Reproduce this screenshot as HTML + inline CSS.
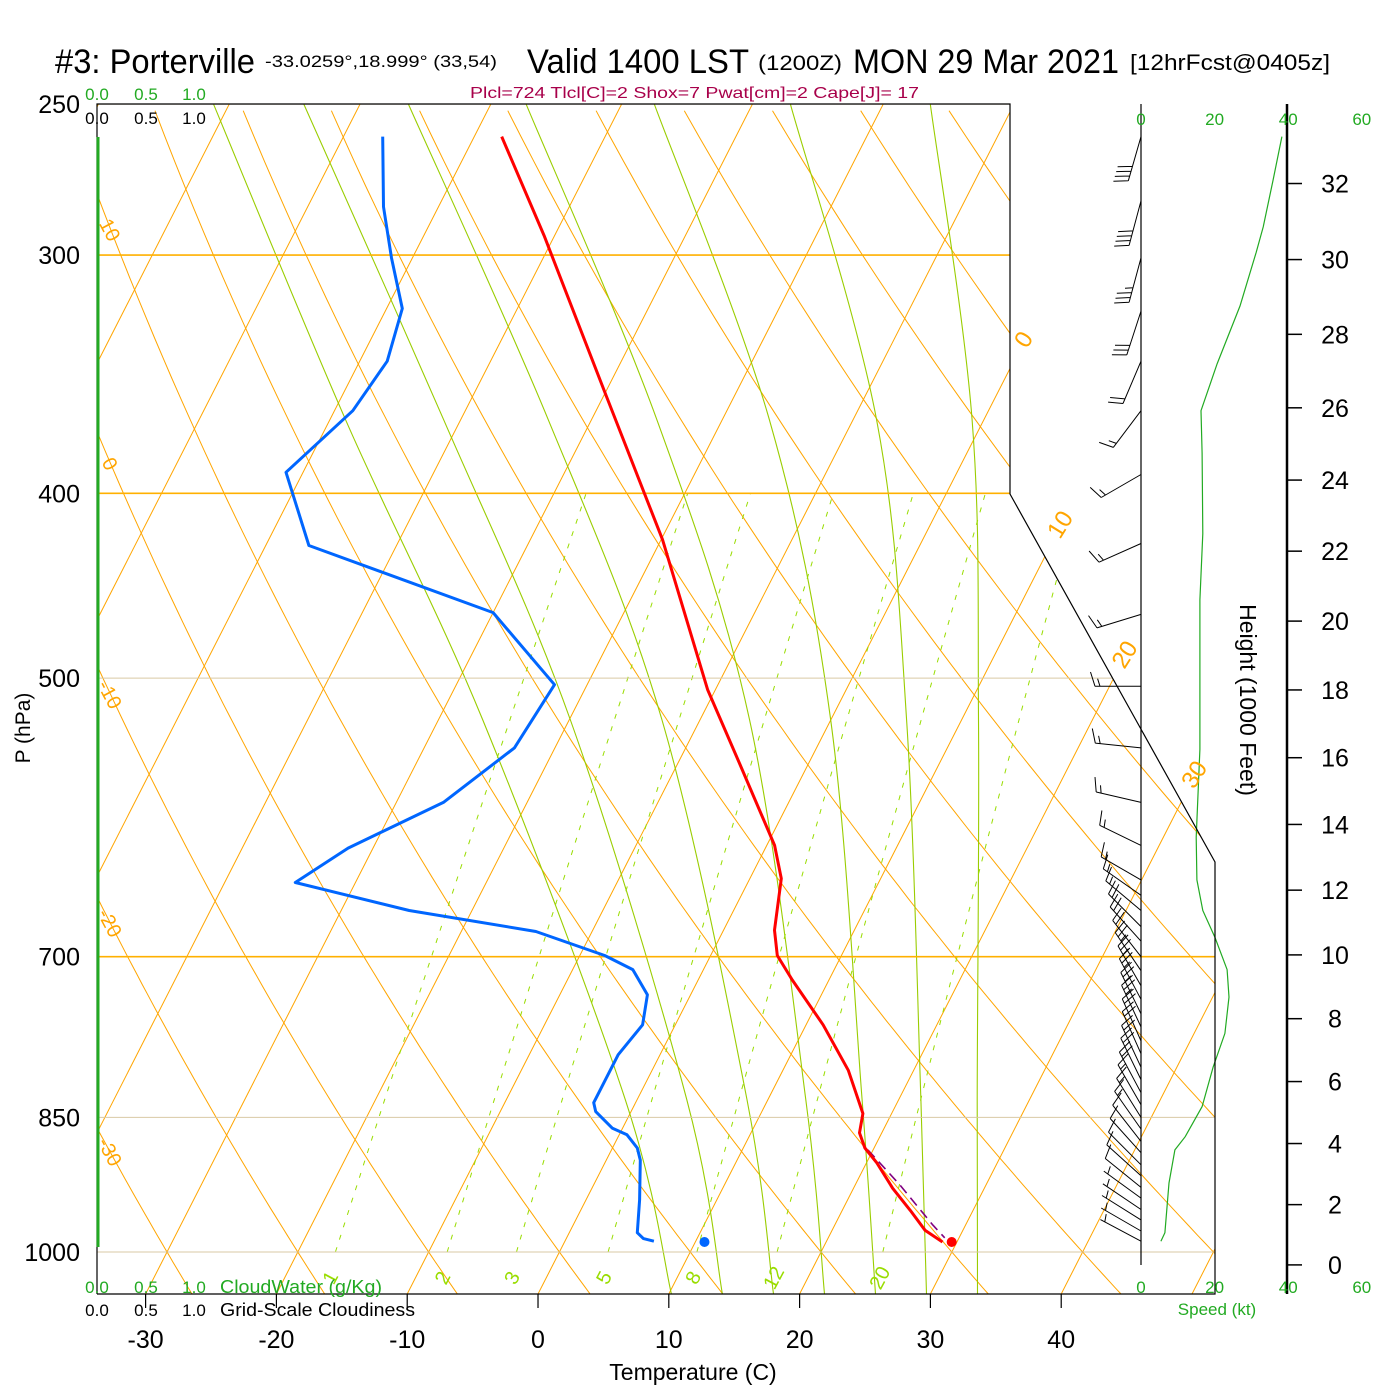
<!DOCTYPE html>
<html><head><meta charset="utf-8"><title>Skew-T Porterville</title>
<style>
html,body{margin:0;padding:0;background:#fff;}
svg{display:block;font-family:"Liberation Sans",Arial,sans-serif;}
</style></head>
<body>
<svg id="chart" xmlns="http://www.w3.org/2000/svg" width="1400" height="1400" viewBox="0 0 1400 1400">
<rect x="0" y="0" width="1400" height="1400" fill="#fff"/>
<defs><clipPath id="plotclip"><polygon points="97,104 1010,104 1010,494 1215,862 1215,1294 97,1294"/></clipPath></defs>
<g id="grid" clip-path="url(#plotclip)"></g>
<g id="marks"></g>
<g id="barbs"></g>
<g id="frame"></g>
<g id="labels"></g>
<text x="55" y="73" font-size="34" textLength="200" lengthAdjust="spacingAndGlyphs">#3: Porterville</text>
<text x="265" y="67" font-size="17" textLength="232" lengthAdjust="spacingAndGlyphs">-33.0259°,18.999° (33,54)</text>
<text x="527" y="73" font-size="34" textLength="222" lengthAdjust="spacingAndGlyphs">Valid 1400 LST</text>
<text x="758" y="70" font-size="21" textLength="84" lengthAdjust="spacingAndGlyphs">(1200Z)</text>
<text x="853" y="73" font-size="34" textLength="266" lengthAdjust="spacingAndGlyphs">MON 29 Mar 2021</text>
<text x="1130" y="70" font-size="22" textLength="200" lengthAdjust="spacingAndGlyphs">[12hrFcst@0405z]</text>
<text x="470" y="98" font-size="16" fill="#a8004a" textLength="449" lengthAdjust="spacingAndGlyphs">Plcl=724 Tlcl[C]=2 Shox=7 Pwat[cm]=2 Cape[J]= 17</text>
</svg>
<script>
// ---------- data ----------
const tempP = [260,293,355,423,507,555,612,637,678,699,720,760,803,846,866,882,898,926,951,974,988];
const tempT = [-47.9,-40.8,-29.9,-19.9,-10.6,-5.2,0.6,2.4,3.9,5.1,7.2,11.3,15.0,17.8,18.3,19.3,20.8,23.0,25.2,27.1,28.9];
const dewP = [260,283,301,320,341,362,390,426,462,504,544,581,614,640,662,679,699,711,733,760,788,835,844,861,868,882,895,939,977,984,987];
const dewT = [-57.0,-54.2,-51.6,-48.8,-47.9,-48.6,-51.3,-46.7,-30.0,-22.5,-23.1,-26.4,-31.9,-34.6,-24.8,-14.3,-8.1,-5.4,-3.3,-2.5,-3.2,-3.2,-2.7,-0.8,0.6,1.9,2.6,4.1,5.2,5.9,6.8];
const parcelP = [884,922,968,983];
const parcelT = [19.6,23.4,27.5,28.9];
const sfcP = 988, sfcT = 29.6, sfcTd = 10.7;
const barbP = [260,281,301,321,341,362,391,425,463,505,544,581,612,638,650,662,675,687,700,712,725,737,750,762,775,787,800,812,825,837,850,862,875,887,900,912,925,937,950,962,975,987];
const barbDir = [196,195,195,198,203,217,240,246,253,270,276,283,296,300,305,310,315,318,322,326,330,332,334,335,336,336,335,334,332,330,328,325,322,318,315,312,309,306,304,302,300,298];
const barbSpd = [40,40,35,30,20,15,15,15,15,15,15,15,15,15,16,17,19,20,22,23,24,24,24,23,22,21,20,19,18,17,15,13,11,9,8,8,8,7,7,7,6,5];
const spdP = [260,274,290,299,319,342,362,381,420,455,545,606,638,662,684,711,735,768,800,839,870,884,920,977,987];
const spdKt = [38.3,35.9,33.2,31.3,26.9,20.7,16.3,16.6,16.8,16.0,16.0,15.0,15.2,16.8,20.1,23.4,23.9,22.8,19.6,16.6,12.0,9.2,7.6,6.5,5.4];
const pressureTicks = [250,300,400,500,700,850,1000];
const tempTicks = [-30,-20,-10,0,10,20,30,40];
const heightTicks = [0,2,4,6,8,10,12,14,16,18,20,22,24,26,28,30,32];
const speedTicks = [0,20,40,60];
const mixRatios = [1,2,3,5,8,12,20];
// moist adiabats: temperatures (C) at these pressure levels, one row per curve
const moistP = [250,366,526,832,1052];
const moistT1 = [-71.2,-48.8,-26.6,-0.9,10.2];
const moistT2 = [-64.3,-41.3,-19.9,3.8,14.1];
const moistT3 = [-56.3,-33.3,-12.9,8.4,18.0];
const moistT4 = [-47.3,-25.0,-6.2,12.9,21.9];
const moistT5 = [-37.5,-16.4,0.0,17.2,25.8];
const moistT6 = [-27.1,-8.2,5.8,21.7,29.7];
const moistT7 = [-16.4,-0.9,11.3,26.0,33.6];
const dryLabels = [10,0,-10,-20,-30];
const isoLabels = [0,10,20,30];

// ---------- axes ----------
const NS='http://www.w3.org/2000/svg';
function yP(p){return 1252-828*Math.log(1000/p);}
function xT(T,p){return 538+13.08*T+0.51*(1294-yP(p));}
function xSpd(s){return 1141+3.68*s;}
function yHeight(kft){const h=kft*304.8;const p=1013.25*Math.pow(1-6.5e-3*h/288.15,5.2559);return yP(p)+2;}
function mk(tag,attrs,parent){const e=document.createElementNS(NS,tag);for(const k in attrs)e.setAttribute(k,attrs[k]);parent.appendChild(e);return e;}
function es(Tc){return 6.112*Math.exp(17.67*Tc/(Tc+243.5));}
function tdFromE(e){const l=Math.log(e/6.112);return 243.5*l/(17.67-l);}
const grid=document.getElementById('grid');
const marks=document.getElementById('marks');
const barbs=document.getElementById('barbs');
const frame=document.getElementById('frame');
const labels=document.getElementById('labels');
const PB=1052, PT=250;

// isotherms
for(let T=-130;T<=50;T+=10){
  const l=mk('line',{x1:xT(T,PB),y1:yP(PB),x2:xT(T,PT),y2:yP(PT),stroke:'#ffa500','stroke-width':1},grid);
  
  
}
// dry adiabats
for(let th=-40;th<=220;th+=10){
  let d='';
  for(let p=PB;p>=PT-1;p-=8){const T=(th+273.15)*Math.pow(p/1000,0.2857)-273.15;d+=(d?'L':'M')+xT(T,p).toFixed(1)+','+yP(p).toFixed(1);}
  const e=mk('path',{d:d,fill:'none',stroke:'#ffa500','stroke-width':1},grid);
  
  
}
// moist adiabats (smooth curve through readings)
for(const row of [moistT1,moistT2,moistT3,moistT4,moistT5,moistT6,moistT7]){
  const pts=moistP.map((p,i)=>[xT(row[i],p),yP(p)]);
  let d='M'+pts[0][0].toFixed(1)+','+pts[0][1].toFixed(1);
  for(let i=0;i<pts.length-1;i++){
    const p0=pts[Math.max(0,i-1)],p1=pts[i],p2=pts[i+1],p3=pts[Math.min(pts.length-1,i+2)];
    const c1=[p1[0]+(p2[0]-p0[0])/6,p1[1]+(p2[1]-p0[1])/6];
    const c2=[p2[0]-(p3[0]-p1[0])/6,p2[1]-(p3[1]-p1[1])/6];
    d+='C'+c1[0].toFixed(1)+','+c1[1].toFixed(1)+' '+c2[0].toFixed(1)+','+c2[1].toFixed(1)+' '+p2[0].toFixed(1)+','+p2[1].toFixed(1);
  }
  const e=mk('path',{d:d,fill:'none',stroke:'#9acd00','stroke-width':1.1},grid);
  
  
}
// mixing ratio
for(const w of mixRatios){
  let d='';
  for(let p=1000;p>=400;p-=10){const e=w*p/(622+w);d+=(d?'L':'M')+xT(tdFromE(e),p).toFixed(1)+','+yP(p).toFixed(1);}
  const e=mk('path',{d:d,fill:'none',stroke:'#99dd00','stroke-width':1,'stroke-dasharray':'5,8'},grid);
  
  
  const pl=1032, x=xT(tdFromE(w*pl/(622+w)),pl)+4, y=yP(pl);
  const t=mk('text',{x:x,y:y+6,'font-size':20,fill:'#99dd00','text-anchor':'middle',transform:'rotate(-62 '+x+' '+y+')'},labels);
  t.textContent=w;
  
  
}
// pressure lines
for(const p of pressureTicks){
  const strong=(p===300||p===400||p===700);
  const l=mk('line',{x1:97,y1:yP(p),x2:1215,y2:yP(p),stroke:strong?'#ffb000':'#d9c9a4','stroke-width':strong?1.6:1},grid);
  
  
}
// dry adiabat labels (left)
for(const th of dryLabels){
  let best=null;
  for(let p=PT;p<=PB;p+=1){const T=(th+273.15)*Math.pow(p/1000,0.2857)-273.15;if(xT(T,p)>=110){best=p;break;}}
  const x=110,y=yP(best);
  const t=mk('text',{x:x,y:y+7,'font-size':20,fill:'#ffa500','text-anchor':'middle',transform:'rotate(62 '+x+' '+y+')'},labels);
  t.textContent=th;
  
  
}
// isotherm labels (right)
const isoLabelY=[340,525,655,775];
isoLabels.forEach((T,i)=>{
  const y=isoLabelY[i];const p=1000*Math.exp(-(1252-y)/828);const x=xT(T,p);
  const t=mk('text',{x:x,y:y+7,'font-size':24,fill:'#ffa500','text-anchor':'middle',transform:'rotate(-58 '+x+' '+y+')'},labels);
  t.textContent=T;
  
  
});

// ---------- profiles ----------
function prof(P,T,color,w,name,dash){
  let d='';P.forEach((p,i)=>{d+=(i?'L':'M')+xT(T[i],p).toFixed(1)+','+yP(p).toFixed(1);});
  const a={d:d,fill:'none',stroke:color,'stroke-width':w,'stroke-linejoin':'round'};if(dash)a['stroke-dasharray']=dash;
  const e=mk('path',a,marks);
  
  
}
prof(parcelP,parcelT,'#800080',1.6,'parcel-path','10,6');
prof(dewP,dewT,'#0066ff',3,'dewpoint-profile');
prof(tempP,tempT,'#ff0000',3,'temperature-profile');
const c1=mk('circle',{cx:xT(sfcT,sfcP),cy:yP(sfcP),r:5,fill:'#ff0000'},marks);


const c2=mk('circle',{cx:xT(sfcTd,sfcP),cy:yP(sfcP),r:5,fill:'#0066ff'},marks);



// speed profile
{let d='';spdP.forEach((p,i)=>{d+=(i?'L':'M')+xSpd(spdKt[i]).toFixed(1)+','+yP(p).toFixed(1);});
const e=mk('path',{d:d,fill:'none',stroke:'#22aa22','stroke-width':1.2},marks);

}

// ---------- barbs ----------
barbP.forEach((p,i)=>{
  const sx=1141,sy=yP(p),L=46,a=barbDir[i]*Math.PI/180;
  const ux=Math.sin(a),uy=-Math.cos(a);
  const ex=sx+ux*L,ey=sy+uy*L;
  let d='M'+sx+','+sy.toFixed(1)+'L'+ex.toFixed(1)+','+ey.toFixed(1);
  const fx=-uy*0.95+ux*0.3,fy=ux*0.95+uy*0.3;
  let s=Math.round(barbSpd[i]/5)*5;let full=Math.floor(s/10),half=(s%10)>=5;
  let pos=0;
  for(let k=0;k<full;k++){const bx=ex-ux*pos,by=ey-uy*pos;d+='M'+bx.toFixed(1)+','+by.toFixed(1)+'l'+(fx*15).toFixed(1)+','+(fy*15).toFixed(1);pos+=5;}
  if(half){if(full===0)pos=5;const bx=ex-ux*pos,by=ey-uy*pos;d+='M'+bx.toFixed(1)+','+by.toFixed(1)+'l'+(fx*8).toFixed(1)+','+(fy*8).toFixed(1);}
  const e=mk('path',{d:d,fill:'none',stroke:'#000','stroke-width':1},barbs);
  
  
});

// ---------- frame ----------
function ln(x1,y1,x2,y2,c,w,name){const l=mk('line',{x1:x1,y1:y1,x2:x2,y2:y2,stroke:c,'stroke-width':w},frame);
  
  }
{const e=mk('polyline',{points:'97,1294 97,104 1010,104 1010,494 1215,862 1215,1294 97,1294',fill:'none',stroke:'#000','stroke-width':1.2},frame);

}
ln(98,137,98,1247,'#22aa22',3,'cloudwater-axis');
ln(1141,104,1141,1265,'#000',1.2,'barb-staff-axis');
ln(1287,104,1287,1294,'#000',2.5,'height-axis');
for(const T of tempTicks){ln(xT(T,1052),1294,xT(T,1052),1308,'#000',1.2,'temp-tick');
  const t=mk('text',{x:xT(T,1052),y:1348,'font-size':25,'text-anchor':'middle'},labels);t.textContent=T;
  
  }
for(const p of pressureTicks){const t=mk('text',{x:80,y:yP(p)+9,'font-size':25,'text-anchor':'end'},labels);t.textContent=p;
  
  }
for(const h of heightTicks){const y=yHeight(h);ln(1287,y,1302,y,'#000',1.5,'height-tick');
  const t=mk('text',{x:1335,y:y+9,'font-size':25,'text-anchor':'middle'},labels);t.textContent=h;
  
  }
for(const s of speedTicks){
  for(const yy of [125,1293]){const t=mk('text',{x:xSpd(s),y:yy,'font-size':17,fill:'#22aa22','text-anchor':'middle'},labels);t.textContent=s;
  
  }}
const cw=[['0.0',97],['0.5',146],['1.0',194]];
for(const [s,x] of cw){
  const a=mk('text',{x:x,y:100,'font-size':17,fill:'#22aa22','text-anchor':'middle'},labels);a.textContent=s;
  
  
  const b=mk('text',{x:x,y:124,'font-size':17,'text-anchor':'middle'},labels);b.textContent=s;
  
  
  const c=mk('text',{x:x,y:1293,'font-size':17,fill:'#22aa22','text-anchor':'middle'},labels);c.textContent=s;
  
  
  const d=mk('text',{x:x,y:1316,'font-size':17,'text-anchor':'middle'},labels);d.textContent=s;
  
  
}
function txt(s,attrs,name){const t=mk('text',attrs,labels);t.textContent=s;
  
  }
txt('CloudWater (g/Kg)',{x:220,y:1293,'font-size':18,fill:'#22aa22',textLength:162,lengthAdjust:'spacingAndGlyphs'},'cloudwater-title');
txt('Grid-Scale Cloudiness',{x:220,y:1316,'font-size':18,textLength:195,lengthAdjust:'spacingAndGlyphs'},'cloudiness-title');
txt('Temperature (C)',{x:693,y:1380,'font-size':23,'text-anchor':'middle'},'x-axis-title');
txt('P (hPa)',{x:30,y:728,'font-size':21,'text-anchor':'middle',transform:'rotate(-90 30 728)'},'y-axis-title');
txt('Height (1000 Feet)',{x:1240,y:700,'font-size':23,'text-anchor':'middle',transform:'rotate(90 1240 700)'},'height-axis-title');
txt('Speed (kt)',{x:1217,y:1315,'font-size':17,fill:'#22aa22','text-anchor':'middle'},'speed-axis-title');
</script>
</body></html>
